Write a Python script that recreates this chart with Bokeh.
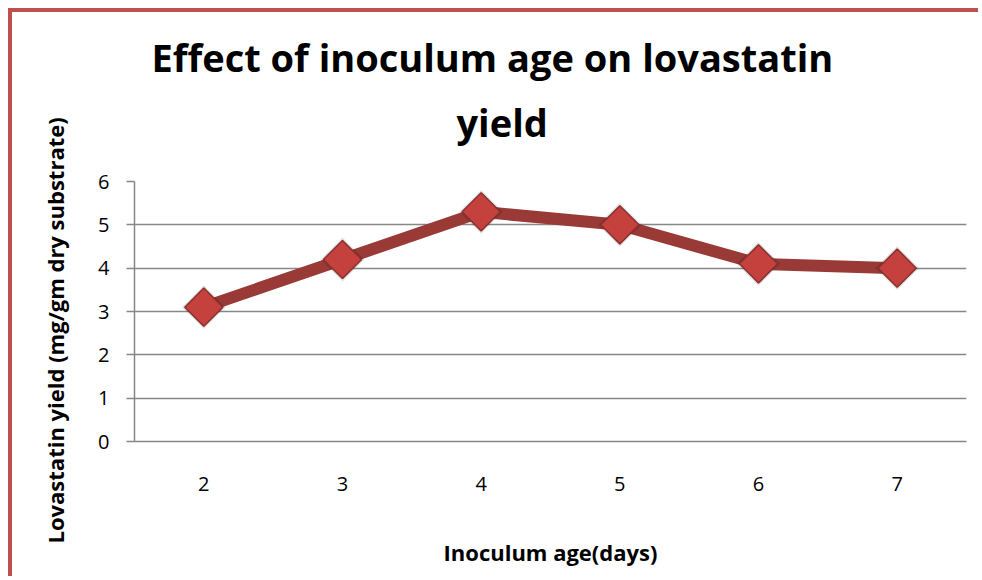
import numpy as np
from bokeh.plotting import figure
from bokeh.models import Range1d, FactorRange, Title
from bokeh.embed import file_html
from bokeh.resources import INLINE

# ---- data ----
days = ["2", "3", "4", "5", "6", "7"]
lovastatin_yield = [3.1, 4.2, 5.3, 5.0, 4.1, 4.0]
y_ticks = [0, 1, 2, 3, 4, 5, 6]
title_lines = ["Effect of inoculum age on lovastatin", "yield"]
x_label = "Inoculum age(days)"
y_label = "Lovastatin yield (mg/gm dry substrate)"

GRAY = "#878787"
LINE_RED = "#993A37"
MARK_RED = "#C4413E"
BORDER_RED = "#C0504D"
FONT = "Open Sans"

p = figure(
    width=970, height=568,
    x_range=FactorRange(factors=days, range_padding=0),
    y_range=Range1d(0, 6),
    output_backend="svg", toolbar_location=None,
    min_border_left=122, min_border_right=16,
    min_border_top=169, min_border_bottom=139,
)
p.styles = {
    "margin-left": "8px", "margin-top": "8px",
    "border-left": f"4px solid {BORDER_RED}", "border-top": f"4px solid {BORDER_RED}",
}
p.outline_line_color = None
p.background_fill_color = "white"
p.border_fill_color = "white"

# grid
p.xgrid.visible = False
p.ygrid.grid_line_color = GRAY
p.ygrid.grid_line_width = 1.5

# y axis
p.yaxis.ticker = y_ticks
p.yaxis.axis_line_color = GRAY
p.yaxis.axis_line_width = 1.5
p.yaxis.major_tick_line_color = GRAY
p.yaxis.major_tick_line_width = 1.5
p.yaxis.major_tick_out = 8
p.yaxis.major_tick_in = 0
p.yaxis.minor_tick_out = 0
p.yaxis.minor_tick_in = 0
p.yaxis.major_label_standoff = 17
p.yaxis.major_label_text_font = FONT
p.yaxis.major_label_text_font_size = "20px"
p.yaxis.major_label_text_color = "black"

# x axis
p.xaxis.axis_line_color = GRAY
p.xaxis.axis_line_width = 1.5
p.xaxis.major_tick_out = 0
p.xaxis.major_tick_in = 0
p.xaxis.major_label_standoff = 35
p.xaxis.major_label_text_font = FONT
p.xaxis.major_label_text_font_size = "20px"
p.xaxis.major_label_text_color = "black"
p.xaxis.axis_label = x_label
p.xaxis.axis_label_standoff = 43
p.xaxis.axis_label_text_font = FONT
p.xaxis.axis_label_text_font_style = "bold"
p.xaxis.axis_label_text_font_size = "22px"
p.xaxis.axis_label_text_color = "black"

# series
p.line(x=days, y=lovastatin_yield, line_color=LINE_RED, line_width=12, line_join="round")
p.scatter(x=days, y=lovastatin_yield, marker="square", size=31, angle=np.pi / 4,
          fill_color="black", fill_alpha=0.12, line_color=None)
p.scatter(x=days, y=lovastatin_yield, marker="square", size=27, angle=np.pi / 4,
          fill_color=MARK_RED, line_color="#8A302D", line_width=1.5)

# title (two lines) stacked above the frame: spacer, "yield", first line
spacer = Title(text=" ", text_font_size="1px", standoff=26)
t_yield = Title(text=title_lines[1], align="left", offset=322, standoff=10,
                text_font=FONT, text_font_style="bold", text_font_size="38px",
                text_color="black")
t_effect = Title(text=title_lines[0], align="left", offset=17, standoff=11,
                 text_font=FONT, text_font_style="bold", text_font_size="38px",
                 text_color="black")
p.add_layout(spacer, "above")
p.add_layout(t_yield, "above")
p.add_layout(t_effect, "above")

# y axis label as a left-side title
t_ylab = Title(text=y_label, align="left", offset=-102, standoff=48, vertical_align="top",
               text_font=FONT, text_font_style="bold", text_font_size="22px",
               text_color="black")
p.add_layout(t_ylab, "left")

open("out.html", "w").write(file_html(p, INLINE))
